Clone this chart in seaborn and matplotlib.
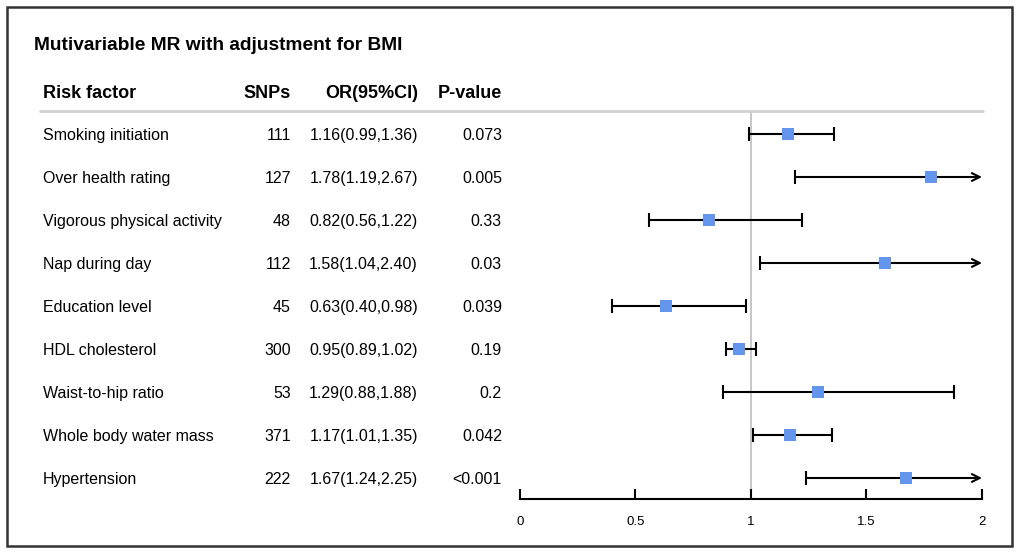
import numpy as np
import pandas as pd
import matplotlib.pyplot as plt
import seaborn as sns
from matplotlib.patches import Rectangle
from matplotlib.lines import Line2D
from matplotlib.transforms import blended_transform_factory

sns.set_style("white")
plt.rcParams['font.family'] = ['Liberation Sans', 'DejaVu Sans']
plt.rcParams['text.color'] = 'black'
plt.rcParams['xtick.color'] = 'black'

factors = ["Smoking initiation", "Over health rating", "Vigorous physical activity",
           "Nap during day", "Education level", "HDL cholesterol",
           "Waist-to-hip ratio", "Whole body water mass", "Hypertension"]
snps = [111, 127, 48, 112, 45, 300, 53, 371, 222]
or_est = [1.16, 1.78, 0.82, 1.58, 0.63, 0.95, 1.29, 1.17, 1.67]
ci_low = [0.99, 1.19, 0.56, 1.04, 0.40, 0.89, 0.88, 1.01, 1.24]
ci_high = [1.36, 2.67, 1.22, 2.40, 0.98, 1.02, 1.88, 1.35, 2.25]
pvals = ["0.073", "0.005", "0.33", "0.03", "0.039", "0.19", "0.2", "0.042", "<0.001"]
x_ticks = [0, 0.5, 1, 1.5, 2]

df = pd.DataFrame({"factor": factors, "snps": snps, "OR": or_est,
                   "lo": ci_low, "hi": ci_high, "p": pvals})
df["row"] = np.arange(len(df))

W, H = 1020, 553
fig = plt.figure(figsize=(W / 100, H / 100), dpi=100)

# forest axes
ax = fig.add_axes([520 / W, (H - 499) / H, (982 - 520) / W, (499 - 111) / H])
xmax = 2
ax.set_xlim(0, xmax)
ax.set_ylim(len(df) - 1 + 21 / 43, -23 / 43)

ax.axvline(1, color="#c8c8c8", lw=1.5, zorder=0)

for _, r in df.iterrows():
    hi = min(r["hi"], xmax)
    if r["hi"] > xmax:
        ax.annotate("", xy=(xmax, r["row"]), xytext=(r["lo"], r["row"]),
                    arrowprops=dict(arrowstyle="->", color="black", lw=1.5,
                                    mutation_scale=14, shrinkA=0, shrinkB=0))
        ax.plot([r["lo"]], [r["row"]], marker="|", color="black", ms=10, mew=1.5)
    else:
        ax.hlines(r["row"], r["lo"], hi, color="black", lw=1.5)
        ax.plot([r["lo"], hi], [r["row"], r["row"]], ls="none", marker="|",
                color="black", ms=10, mew=1.5)

sns.scatterplot(data=df, x="OR", y="row", marker="s", s=80, color="#6495ED",
                edgecolor="#6495ED", linewidth=0, zorder=5, ax=ax)

for s in ["top", "left", "right"]:
    ax.spines[s].set_visible(False)
ax.spines["bottom"].set_linewidth(1.5)
ax.spines["bottom"].set_color("black")
ax.set_yticks([])
ax.set_xticks(x_ticks)
ax.set_xticklabels([f"{t:g}" for t in x_ticks])
ax.tick_params(axis="x", bottom=True, direction="in", length=7, width=1.5,
               color="black", labelcolor="black", labelsize=9.5, pad=12)
ax.set_xlabel("")
ax.set_ylabel("")
ax.patch.set_alpha(0)

# table text
tr = blended_transform_factory(fig.transFigure, ax.transData)
fs = 11.5
for _, r in df.iterrows():
    y = r["row"]
    kw = dict(transform=tr, va="center_baseline", fontsize=fs)
    ax.text(43 / W, y, r["factor"], ha="left", **kw)
    ax.text(291 / W, y, str(r["snps"]), ha="right", **kw)
    ax.text(418 / W, y, f"{r['OR']:.2f}({r['lo']:.2f},{r['hi']:.2f})", ha="right", **kw)
    ax.text(502 / W, y, r["p"], ha="right", **kw)

# header
hy = 1 - 92 / H
hfs = 13
hkw = dict(va="center_baseline", fontsize=hfs, fontweight="bold")
fig.text(43 / W, hy, "Risk factor", ha="left", **hkw)
fig.text(291 / W, hy, "SNPs", ha="right", **hkw)
fig.text(418 / W, hy, "OR(95%CI)", ha="right", **hkw)
fig.text(502 / W, hy, "P-value", ha="right", **hkw)
fig.add_artist(Line2D([40 / W, 983 / W], [1 - 111 / H, 1 - 111 / H],
                      color="#d0d0d0", lw=2, transform=fig.transFigure))

# title
fig.text(34 / W, 1 - 44 / H, "Mutivariable MR with adjustment for BMI", ha="left",
         va="center_baseline", fontsize=13.8, fontweight="bold")

# border
fig.add_artist(Rectangle((7 / W, 1 - 546 / H), (1012 - 7) / W, (546 - 7) / H,
                         fill=False, edgecolor="#333333", lw=1.8,
                         transform=fig.transFigure))

fig.savefig("out.png", dpi=100, facecolor="white")
